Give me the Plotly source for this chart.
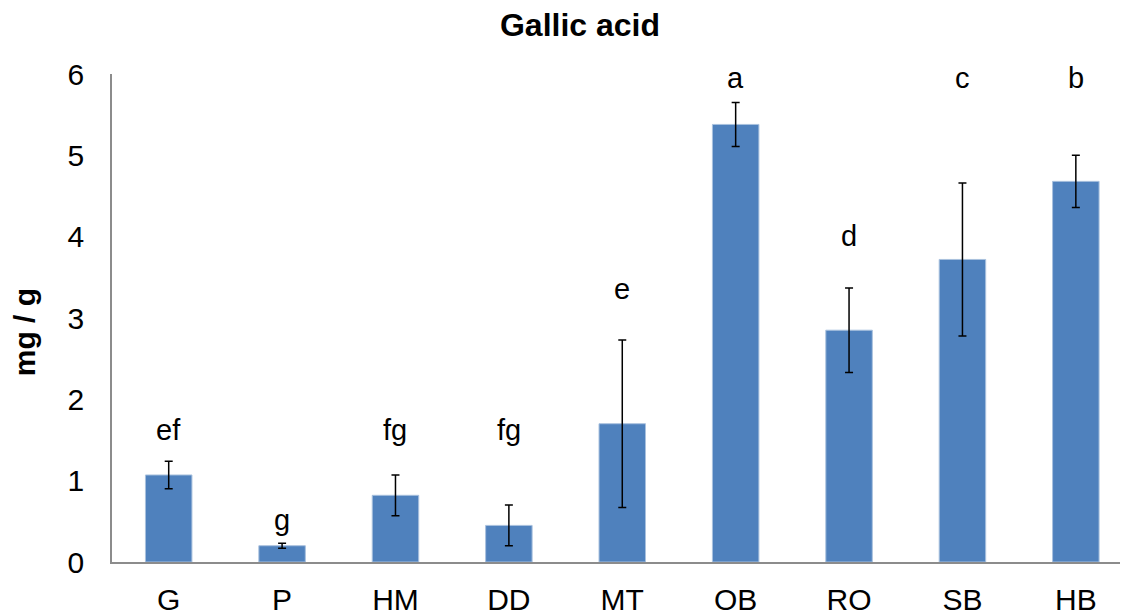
import plotly.graph_objects as go

# --- data ---
samples = ["G", "P", "HM", "DD", "MT", "OB", "RO", "SB", "HB"]
gallic_mg_g = [1.07, 0.20, 0.82, 0.45, 1.70, 5.38, 2.85, 3.72, 4.68]
sd_mg_g = [0.17, 0.03, 0.25, 0.25, 1.03, 0.27, 0.52, 0.94, 0.32]
letters = ["ef", "g", "fg", "fg", "e", "a", "d", "c", "b"]
letter_y = [1.62, 0.52, 1.62, 1.62, 3.36, 5.95, 4.01, 5.95, 5.95]

FONT = "Liberation Sans, Arial, sans-serif"
BAR = "#4f81bd"
AXIS = "#8c8c8c"

fig = go.Figure()
fig.add_trace(go.Bar(
    x=samples, y=gallic_mg_g,
    marker=dict(color=BAR, line=dict(color="#a9c1de", width=1)),
    error_y=dict(type="data", array=sd_mg_g, visible=True,
                 color="black", thickness=1.5, width=4),
    width=0.41, showlegend=False,
))

# significance letters above the bars
for s, lab, ly in zip(samples, letters, letter_y):
    fig.add_annotation(x=s, y=ly, text=lab, showarrow=False,
                       xanchor="center", yanchor="middle",
                       font=dict(family=FONT, size=29, color="black"))

# y axis title
fig.add_annotation(xref="paper", yref="paper", x=-0.086, y=0.47,
                   text="<b>mg / g</b>", textangle=-90, showarrow=False,
                   xanchor="center", yanchor="middle",
                   font=dict(family=FONT, size=30, color="black"))

# page body has an 8px margin, so the figure is 8px smaller each way
fig.update_layout(
    width=1120, height=608,
    margin=dict(l=104, r=0, t=66, b=54),
    paper_bgcolor="white", plot_bgcolor="white",
    title=dict(text="<b>Gallic acid</b>", x=572 / 1120, xanchor="center",
               y=1 - 17 / 608, yanchor="middle", yref="container",
               font=dict(family=FONT, size=32, color="black")),
    font=dict(family=FONT, color="black"),
)
fig.update_xaxes(
    range=[-0.5, 8.46], showline=True, linecolor=AXIS, linewidth=1.5,
    ticks="", showgrid=False, tickfont=dict(size=30, color="black"),
    ticklabelstandoff=10, automargin=False,
)
fig.update_yaxes(
    range=[0, 6], dtick=1, showline=True, linecolor=AXIS, linewidth=1.5,
    ticks="", showgrid=False, zeroline=False, automargin=False,
    tickfont=dict(size=30, color="black"), ticklabelstandoff=20,
)

fig.write_html("out.html")
